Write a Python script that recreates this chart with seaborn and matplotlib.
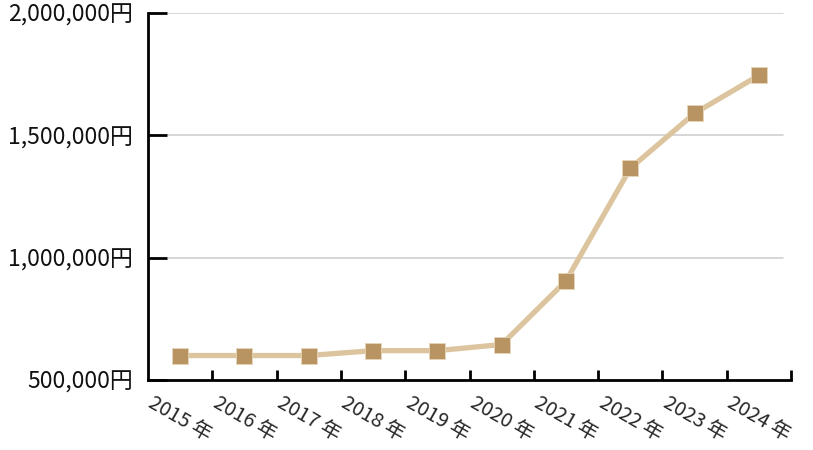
import matplotlib
matplotlib.use('Agg')
import matplotlib.pyplot as plt
import seaborn as sns
import pandas as pd
from matplotlib.ticker import FuncFormatter

# data
years = ['2015', '2016', '2017', '2018', '2019', '2020', '2021', '2022', '2023', '2024']
values = [600000, 600000, 600000, 620000, 620000, 645000, 905000, 1365000, 1590000, 1745000]
y_ticks = [500000, 1000000, 1500000, 2000000]

df = pd.DataFrame({'year': [y + ' 年' for y in years], 'value': values})

sns.set_theme(style='white')
plt.rcParams['font.family'] = ['Noto Sans CJK JP', 'DejaVu Sans']

fig = plt.figure(figsize=(8.13, 4.5), dpi=100)
ax = fig.add_axes([148 / 813, 1 - 380 / 450, (791 - 148) / 813, (380 - 13) / 450])

# grid lines (start a little right of the axis, like the original)
for t in y_ticks[1:]:
    ax.axhline(t, xmin=0.031, xmax=0.988, color='#cfcfcf', lw=1.2, zorder=0)

sns.lineplot(data=df, x='year', y='value', ax=ax, color='#dcc49e', lw=3.8,
             marker='s', markersize=11, markerfacecolor='#b89462',
             markeredgecolor='#e6d5b8', markeredgewidth=0.6, sort=False)

ax.set_xlim(-0.5, 9.5)
ax.set_ylim(500000, 2000000)
ax.set_xlabel('')
ax.set_ylabel('')

# category labels at centres, ticks at band edges
ax.set_xticks([i + 0.5 for i in range(len(years))])
ax.set_xticklabels([])
ax.set_xticks(range(len(years)), minor=True)
ax.set_xticklabels(df['year'], minor=True, rotation=-30, ha='center', fontsize=14.5)
ax.tick_params(axis='x', which='major', bottom=True, direction='in', length=7, width=2, color='black')
ax.tick_params(axis='x', which='minor', bottom=True, length=0, pad=9)

ax.set_yticks(y_ticks)
ax.yaxis.set_major_formatter(FuncFormatter(lambda v, p: f'{int(v):,}円'))
ax.tick_params(axis='y', left=True, direction='in', length=14, width=2, color='black',
               pad=11, labelsize=16.5, labelcolor='#111111')

for s in ['top', 'right']:
    ax.spines[s].set_visible(False)
for s in ['left', 'bottom']:
    ax.spines[s].set_color('black')
    ax.spines[s].set_linewidth(2)

fig.savefig('out.png', dpi=100)
